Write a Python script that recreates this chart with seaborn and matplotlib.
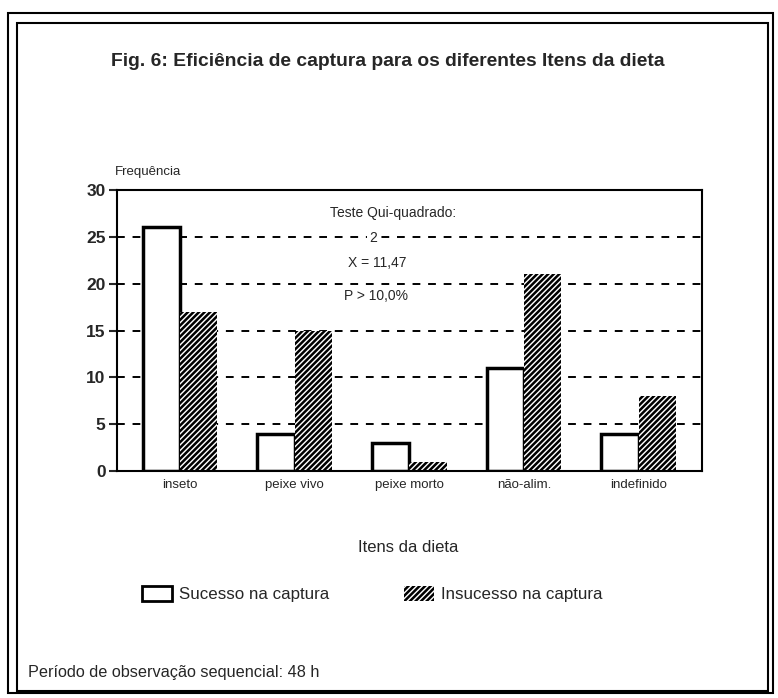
import pandas as pd
import matplotlib
matplotlib.use('Agg')
import matplotlib.pyplot as plt
from matplotlib.patches import Patch, Rectangle
import seaborn as sns

# Data
itens = ['inseto', 'peixe vivo', 'peixe morto', 'não-alim.', 'indefinido']
sucesso = [26, 4, 3, 11, 4]
insucesso = [17, 15, 1, 21, 8]
series = ['Sucesso na captura', 'Insucesso na captura']
yticks = [0, 5, 10, 15, 20, 25, 30]

df = pd.DataFrame({
    'item': itens * 2,
    'freq': sucesso + insucesso,
    'resultado': [series[0]] * len(itens) + [series[1]] * len(itens),
})

sns.set_style('white')
plt.rcParams['font.family'] = ['Liberation Sans', 'DejaVu Sans']
plt.rcParams['hatch.linewidth'] = 1.8

fig = plt.figure(figsize=(7.78, 6.98), dpi=100)
ax = fig.add_axes([0.150, 0.325, 0.752, 0.403])

# dashed grid behind bars
for y in yticks[1:-1]:
    ax.axhline(y, color='black', ls=(0, (4, 4)), lw=1.4, zorder=0)

sns.barplot(data=df, x='item', y='freq', hue='resultado', order=itens,
            hue_order=series, palette=['white', 'white'], edgecolor='black',
            linewidth=2.5, width=0.65, saturation=1, legend=False, ax=ax, zorder=2)

for bar in ax.containers[1]:
    bar.set_hatch('//////')
    bar.set_linewidth(0)

ax.set_ylim(0, 30)
ax.set_yticks(yticks)
ax.set_yticklabels([str(v) for v in yticks], fontsize=12.5, fontweight='bold')
ax.set_xlim(-0.55, 4.55)
ax.tick_params(axis='x', length=0, labelsize=9.5, pad=6)
ax.tick_params(axis='y', length=6, width=1.5, direction='out', left=True, pad=2)
ax.set_xlabel('')
ax.set_ylabel('')
for s in ax.spines.values():
    s.set_color('black')
    s.set_linewidth(1.5)

# chi-square annotation
ax.text(0.473, 0.918, 'Teste Qui-quadrado:', transform=ax.transAxes, ha='center', va='center', fontsize=10)
ax.text(0.438, 0.828, '2', transform=ax.transAxes, ha='center', va='center', fontsize=10,
        bbox=dict(facecolor='white', edgecolor='none', pad=1.5), zorder=3)
ax.text(0.445, 0.74, 'X = 11,47', transform=ax.transAxes, ha='center', va='center', fontsize=10)
ax.text(0.444, 0.623, 'P > 10,0%', transform=ax.transAxes, ha='center', va='center', fontsize=10)

fig.text(115 / 778, 1 - 172 / 698, 'Frequência', ha='left', va='center', fontsize=9.5)
fig.text(388 / 778, 1 - 62 / 698, 'Fig. 6: Eficiência de captura para os diferentes Itens da dieta',
         ha='center', va='center', fontsize=13.9, fontweight='bold')
fig.text(408 / 778, 1 - 548 / 698, 'Itens da dieta', ha='center', va='center', fontsize=12)
fig.text(28 / 778, 1 - 672 / 698, 'Período de observação sequencial: 48 h', ha='left', va='center', fontsize=11.7)

# legend
h1 = Patch(facecolor='white', edgecolor='black', linewidth=2)
h2 = Patch(facecolor='white', edgecolor='black', hatch='//////', linewidth=0)
fig.legend([h1], [series[0]], loc='center left', bbox_to_anchor=(127 / 778, 1 - 594 / 698),
           frameon=False, fontsize=12.2, handlelength=1.75, handleheight=1.0, handletextpad=0.4)
fig.legend([h2], [series[1]], loc='center left', bbox_to_anchor=(389 / 778, 1 - 594 / 698),
           frameon=False, fontsize=12.2, handlelength=1.75, handleheight=1.0, handletextpad=0.4)

# double frame
fig.patches.append(Rectangle((8 / 778, 1 - 693 / 698), 765 / 778, 680 / 698, transform=fig.transFigure,
                             fill=False, edgecolor='black', linewidth=1.5))
fig.patches.append(Rectangle((17 / 778, 1 - 691 / 698), 751 / 778, 668 / 698, transform=fig.transFigure,
                             fill=False, edgecolor='black', linewidth=1.5))

plt.savefig('out.png', dpi=100)
